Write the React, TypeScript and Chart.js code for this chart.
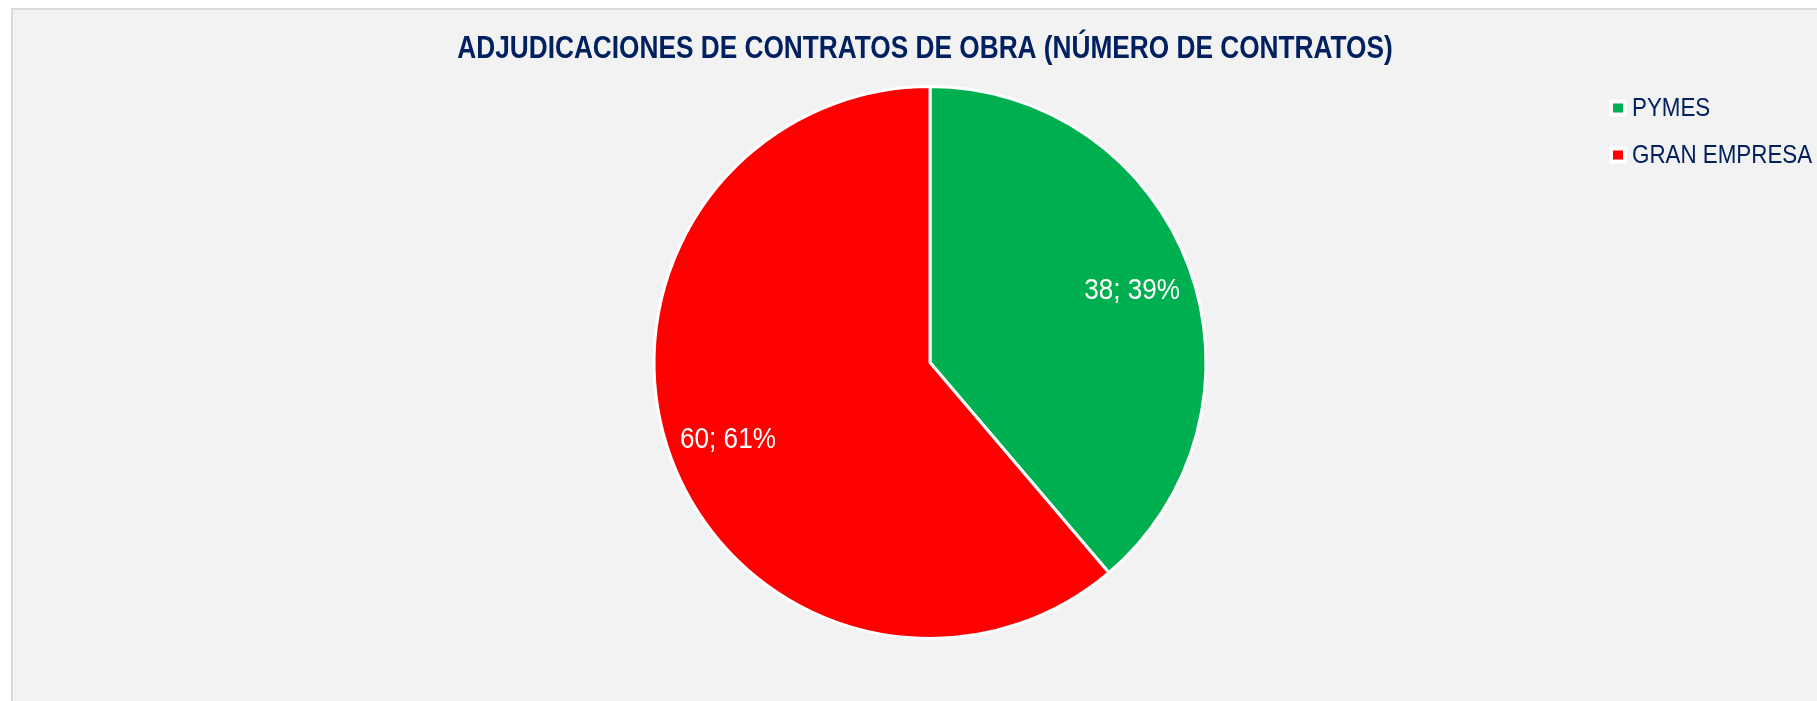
import React, { useEffect, useRef } from "react";
import { Chart, registerables } from "chart.js";

Chart.register(...registerables);

const TITLE = "ADJUDICACIONES DE CONTRATOS DE OBRA (NÚMERO DE CONTRATOS)";
const categories = ["PYMES", "GRAN EMPRESA"];
const values = [38, 60];
const colors = ["#00B050", "#FF0000"];

const FONT = "'Liberation Sans', Arial, sans-serif";
const NAVY = "#002060";

function narrowText(
  ctx: CanvasRenderingContext2D,
  text: string,
  x: number,
  y: number,
  font: string,
  color: string,
  align: CanvasTextAlign,
  scaleX: number
) {
  ctx.save();
  ctx.font = font;
  ctx.fillStyle = color;
  ctx.textAlign = align;
  ctx.textBaseline = "middle";
  ctx.translate(x, y);
  ctx.scale(scaleX, 1);
  ctx.fillText(text, 0, 0);
  ctx.restore();
}

const labelPlugin = {
  id: "customLabels",
  afterDatasetsDraw(chart: any) {
    const ctx = chart.ctx as CanvasRenderingContext2D;
    const meta = chart.getDatasetMeta(0);
    const total = values.reduce((a, b) => a + b, 0);

    // title
    narrowText(ctx, TITLE, 925, 49, `bold 32px ${FONT}`, NAVY, "center", 0.82);

    // data labels
    meta.data.forEach((arc: any, i: number) => {
      const p = arc.getProps(["x", "y", "startAngle", "endAngle", "outerRadius"], true);
      const mid = (p.startAngle + p.endAngle) / 2;
      const r = p.outerRadius * 0.78;
      const pct = Math.round((values[i] / total) * 100);
      narrowText(
        ctx,
        `${values[i]}; ${pct}%`,
        p.x + Math.cos(mid) * r,
        p.y + Math.sin(mid) * r + 3,
        `29px ${FONT}`,
        "#FFFFFF",
        "center",
        0.9
      );
    });

    // legend
    const lx = 1609;
    const ys = [108, 155];
    categories.forEach((c, i) => {
      const y = ys[i];
      ctx.save();
      ctx.fillStyle = "#FFFFFF";
      ctx.fillRect(lx, y - 8.5, 18, 17);
      ctx.fillStyle = colors[i];
      ctx.fillRect(lx + 4, y - 4.5, 10, 9);
      ctx.restore();
      narrowText(ctx, c, 1632, y + 1, `26px ${FONT}`, NAVY, "left", 0.86);
    });
  },
};

export default function App() {
  const ref = useRef<HTMLCanvasElement | null>(null);
  useEffect(() => {
    if (!ref.current) return;
    const chart = new Chart(ref.current, {
      type: "pie",
      data: {
        labels: categories,
        datasets: [
          {
            data: values,
            backgroundColor: colors,
            borderColor: "#FFFFFF",
            borderWidth: 3,
          },
        ],
      },
      options: {
        responsive: false,
        animation: false,
        devicePixelRatio: 1,
        layout: { padding: { top: 85, bottom: 61, left: 10, right: 0 } },
        plugins: {
          legend: { display: false },
          tooltip: { enabled: false },
          title: { display: false },
        },
      },
      plugins: [labelPlugin],
    });
    return () => chart.destroy();
  }, []);

  return (
    <div
      style={{
        position: "fixed",
        left: 0,
        top: 0,
        width: 1817,
        height: 701,
        overflow: "hidden",
        background: "#FFFFFF",
      }}
    >
      <div
        style={{
          position: "absolute",
          left: 11,
          top: 8,
          width: 1900,
          height: 800,
          background: "#F2F2F2",
          borderLeft: "2px solid #D9D9D9",
          borderTop: "2px solid #D9D9D9",
        }}
      />
      <canvas
        ref={ref}
        width={1850}
        height={701}
        style={{ position: "absolute", left: 0, top: 0, width: 1850, height: 701 }}
      />
    </div>
  );
}
